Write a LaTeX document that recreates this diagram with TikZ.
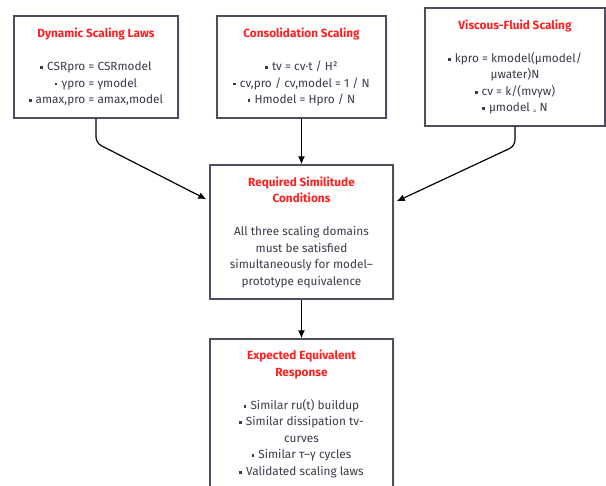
\documentclass[tikz,border=0pt]{standalone}
\usepackage{fontspec}
\setmainfont{Fira Sans}
\usetikzlibrary{arrows.meta,shadows}
\definecolor{boxline}{HTML}{4E4E5E}
\definecolor{bodytext}{HTML}{3A3A4A}
\definecolor{headred}{HTML}{FF2020}
\newcommand{\sq}{\rule[0.28ex]{2.6pt}{2.6pt}\hspace{0.35em}}
\newcommand{\hd}[1]{{\bfseries\color{headred}#1}}

\begin{document}
\begin{tikzpicture}[x=1pt, y=-1pt,
    stage/.style={shape=rectangle, draw=boxline, line width=1.4pt, fill=white, align=center, text=bodytext,
        font=\fontsize{11.8}{16.5}\selectfont, inner sep=0pt,
        drop shadow={opacity=0.12, shadow xshift=1.5pt, shadow yshift=-1.5pt}},
    flow/.style={-{Latex[length=8pt,width=7pt]}, line width=1.2pt, rounded corners=6pt}]
    \useasboundingbox (0,0) rectangle (606,486);
    \clip (0,0) rectangle (606,486);
    \node[stage, minimum width=164pt, minimum height=102pt] at (96,67) (dyn)
        {\hd{Dynamic Scaling Laws}\\[16.5pt]\sq CSRpro = CSRmodel\\\sq γpro = γmodel\\\sq amax,pro = amax,model};
    \node[stage, minimum width=169pt, minimum height=102pt] at (301.5,67) (con)
        {\hd{Consolidation Scaling}\\[16.5pt]\sq tv = cv·t / H²\\\sq cv,pro / cv,model = 1 / N\\\sq Hmodel = Hpro / N};
    \node[stage, minimum width=180pt, minimum height=118pt] at (515,67) (vis)
        {\hd{Viscous-Fluid Scaling}\\[16.5pt]\sq kpro = kmodel(μmodel/\\μwater)N\\\sq cv = k/(mvγw)\\\sq μmodel \raisebox{-0.2ex}{\scriptsize =} N};
    \node[stage, minimum width=183pt, minimum height=134pt] at (301.5,232) (req)
        {\hd{Required Similitude}\\\hd{Conditions}\\[16.5pt]All three scaling domains\\must be satisfied\\simultaneously for model–\\prototype equivalence};
    \node[stage, minimum width=183pt, minimum height=150pt] at (301.5,414) (res)
        {\hd{Expected Equivalent}\\\hd{Response}\\[16.5pt]\sq Similar ru(t) buildup\\\sq Similar dissipation tv-\\curves\\\sq Similar τ–γ cycles\\\sq Validated scaling laws};
    \coordinate (dynbend) at (96,143);
    \coordinate (visbend) at (515,146);
    \draw[flow] (dyn.south) -- (dynbend) -- ([xshift=-3pt, yshift=-35pt]req.north west);
    \draw[flow] (con.south) -- (req.north);
    \draw[flow] (vis.south) -- (visbend) -- ([xshift=3pt, yshift=-37pt]req.north east);
    \draw[flow] (req.south) -- (res.north);
\end{tikzpicture}
\end{document}
